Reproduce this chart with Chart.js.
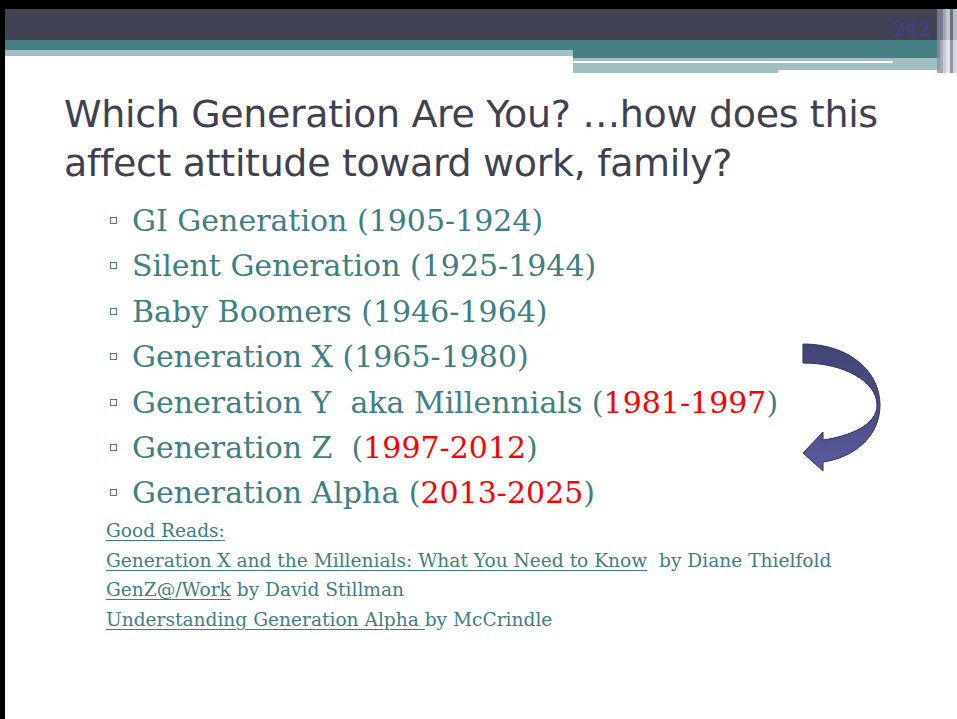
<!DOCTYPE html>
<html>
<head>
<meta charset="utf-8">
<script src="https://cdn.jsdelivr.net/npm/chart.js@4.4.0/dist/chart.umd.min.js"></script>
<style>
  body { margin: 0; background: #fff; }
  #slide { position: relative; width: 957px; height: 719px; overflow: hidden; background: #fff; }
  .blk { position: absolute; }
  #title { position: absolute; left: 64px; top: 90px; margin: 0; font-family: "DejaVu Sans", sans-serif; font-weight: normal; font-size: 38px; letter-spacing: -0.35px; line-height: 49px; color: #40404f; white-space: nowrap; }
  #pageNum { position: absolute; left: 893px; top: 17px; font-family: "DejaVu Serif", serif; font-size: 20px; color: #3c3f9c; }
  .gen { position: absolute; left: 110px; font-family: "DejaVu Serif", serif; font-size: 30px; color: #3f7e83; white-space: nowrap; }
  .gen .box { display: inline-block; width: 5px; height: 5px; border: 1px solid #4f7f84; margin-right: 15px; vertical-align: 7px; }
  .gen .hot { color: #ff0000; }
  .read { position: absolute; left: 106px; font-family: "DejaVu Serif", serif; font-size: 18.6px; color: #3f7e83; white-space: nowrap; }
  .read u { text-decoration-thickness: 1px; text-underline-offset: 3px; }
  #arrowWrap { position: absolute; left: 780px; top: 330px; width: 120px; height: 160px; }
</style>
</head>
<body>
<div id="slide">
  <div class="blk" style="left:0;top:0;width:957px;height:9px;background:#000"></div>
  <div class="blk" style="left:0;top:0;width:5px;height:719px;background:#000"></div>
  <div class="blk" style="left:5px;top:9px;width:952px;height:31px;background:#414254"></div>
  <div class="blk" style="left:5px;top:40px;width:935px;height:10px;background:#457f83"></div>
  <div class="blk" style="left:573px;top:50px;width:367px;height:8px;background:#457f83"></div>
  <div class="blk" style="left:5px;top:50px;width:568px;height:6px;background:#a2bfc2"></div>
  <div class="blk" style="left:573px;top:58px;width:367px;height:12px;background:#a2bfc2"></div>
  <div class="blk" style="left:573px;top:70px;width:205px;height:3px;background:#a2bfc2"></div>
  <div class="blk" style="left:573px;top:61px;width:320px;height:2px;background:#fff"></div>
  <div class="blk" style="left:937px;top:9px;width:6px;height:64px;background:rgba(140,140,160,0.75)"></div>
  <div class="blk" style="left:943px;top:9px;width:3px;height:64px;background:rgba(190,190,205,0.8)"></div>
  <div class="blk" style="left:946px;top:9px;width:4px;height:64px;background:rgba(220,222,228,0.85)"></div>
  <div class="blk" style="left:950px;top:9px;width:3px;height:64px;background:rgba(120,122,140,0.8)"></div>
  <div class="blk" style="left:953px;top:9px;width:4px;height:64px;background:rgba(205,208,215,0.85)"></div>
  <div id="pageNum">242</div>
  <h1 id="title">Which Generation Are You? …how does this<br>affect attitude toward work, family?</h1>
  <div id="list"></div>
  <div id="reads"></div>
  <div id="arrowWrap"><canvas id="arrowChart" width="120" height="160"></canvas></div>
</div>
<script>
// Generations on the slide
const genNames = ["GI Generation", "Silent Generation", "Baby Boomers", "Generation X", "Generation Y  aka Millennials", "Generation Z ", "Generation Alpha"];
const genYears = ["1905-1924", "1925-1944", "1946-1964", "1965-1980", "1981-1997", "1997-2012", "2013-2025"];
const genHot = [false, false, false, false, true, true, true];

// Good reads
const readTitles = ["Good Reads:", "Generation X and the Millenials: What You Need to Know", "GenZ@/Work", "Understanding Generation Alpha "];
const readAuthors = ["", "  by Diane Thielfold", " by David Stillman", "by McCrindle"];

const slide = document.getElementById("slide");
const firstBase = 236;
const genStep = 45.4;

genNames.forEach((name, i) => {
  const d = document.createElement("div");
  d.className = "gen";
  d.style.top = (firstBase + i * genStep - 33) + "px";
  const yrs = genHot[i] ? `<span class="hot">${genYears[i]}</span>` : genYears[i];
  d.innerHTML = `<span class="box"></span>${name.replace(/ /g, "&nbsp;")} (${yrs})`;
  slide.appendChild(d);
});

readTitles.forEach((t, i) => {
  const d = document.createElement("div");
  d.className = "read";
  d.style.top = (540 + i * 29.6 - 20) + "px";
  d.innerHTML = `<u>${t.replace(/ /g, "&nbsp;")}</u>${readAuthors[i].replace(/ /g, "&nbsp;")}`;
  slide.appendChild(d);
});

// Curved arrow drawn by a Chart.js plugin
const arrowPlugin = {
  id: "curvedArrow",
  afterDraw(chart) {
    const c = chart.ctx;
    c.save();
    const g = c.createLinearGradient(0, 14, 0, 141);
    g.addColorStop(0, "#434574");
    g.addColorStop(0.5, "#4a4c82");
    g.addColorStop(1, "#5a5ca0");
    c.beginPath();
    c.moveTo(23, 14);
    c.bezierCurveTo(70, 14, 100, 42, 100, 75);
    c.bezierCurveTo(100, 108, 72, 128, 43, 132);
    c.lineTo(43, 141);
    c.lineTo(23, 123);
    c.lineTo(43, 102);
    c.lineTo(43, 110);
    c.bezierCurveTo(70, 106, 97, 95, 97, 75);
    c.bezierCurveTo(97, 52, 65, 33, 23, 33);
    c.closePath();
    c.fillStyle = g;
    c.fill();
    c.lineWidth = 1;
    c.strokeStyle = "#2f3060";
    c.stroke();
    c.restore();
  }
};

new Chart(document.getElementById("arrowChart").getContext("2d"), {
  type: "scatter",
  data: { datasets: [] },
  options: {
    responsive: false,
    animation: false,
    layout: { padding: 0 },
    plugins: { legend: { display: false }, tooltip: { enabled: false } },
    scales: { x: { display: false }, y: { display: false } }
  },
  plugins: [arrowPlugin]
});
</script>
</body>
</html>
